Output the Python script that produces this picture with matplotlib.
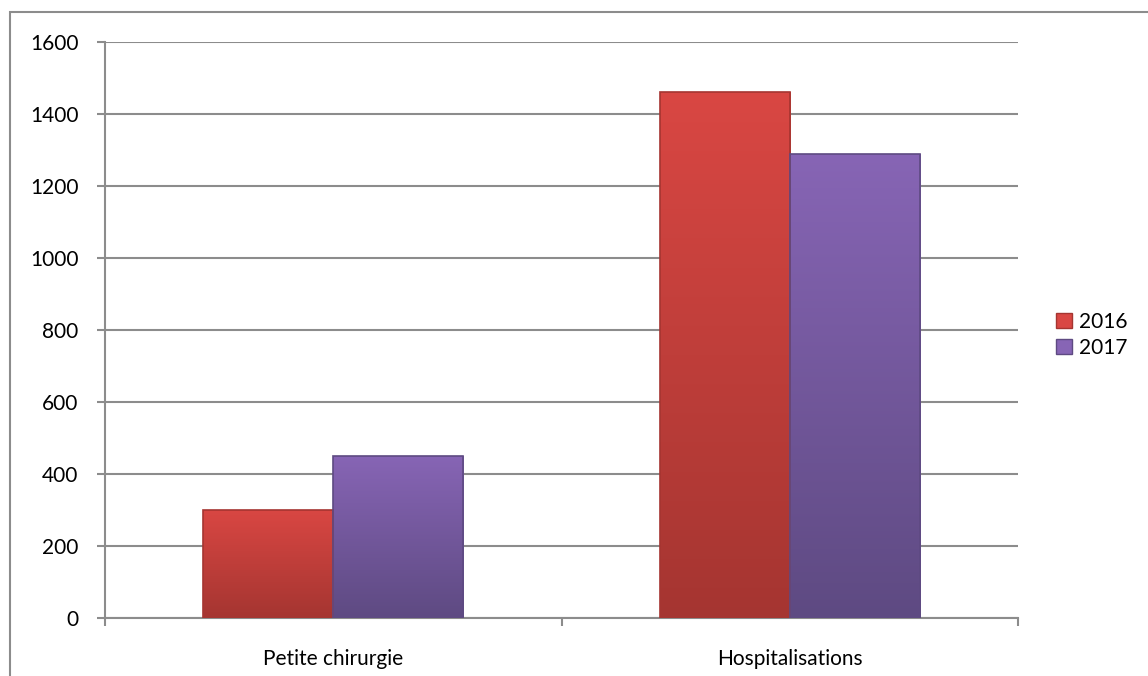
import matplotlib.pyplot as plt
import matplotlib.patches as mpatches
import numpy as np
from matplotlib.colors import LinearSegmentedColormap

categories = ["Petite chirurgie", "Hospitalisations"]
years = ["2016", "2017"]
values_2016 = [300, 1460]
values_2017 = [450, 1290]
yticks = [0, 200, 400, 600, 800, 1000, 1200, 1400, 1600]

plt.rcParams['font.family'] = ['Lato', 'DejaVu Sans']

fig = plt.figure(figsize=(11.48, 6.76), dpi=100)
ax = fig.add_axes([0.0915, 0.0858, 0.7953, 0.8521])

# outer chart border (only left/top visible)
fig.patches.append(mpatches.Rectangle((10 / 1148, -0.1), 1.2, 1 - 12 / 676 + 0.1,
                                      transform=fig.transFigure, fill=False,
                                      edgecolor="#8c8c8c", linewidth=1.5,
                                      clip_on=False))

x = np.arange(len(categories))
w = 0.285
series = [
    (values_2016, -w / 2, "#d94743", "#a53531", years[0]),
    (values_2017, w / 2, "#8765b5", "#5e4a82", years[1]),
]

for vals, off, top_c, bot_c, lab in series:
    cmap = LinearSegmentedColormap.from_list(lab, [bot_c, top_c])
    bars = ax.bar(x + off, vals, width=w, color=top_c, edgecolor="none",
                  label=lab, zorder=3)
    for b in bars:
        bx, by = b.get_x(), b.get_y()
        bw, bh = b.get_width(), b.get_height()
        grad = np.linspace(0, 1, 256).reshape(-1, 1)
        im = ax.imshow(grad, extent=[bx, bx + bw, by, by + bh], origin="lower",
                       cmap=cmap, aspect="auto", zorder=3.5)
        im.set_clip_path(b)
        ax.add_patch(mpatches.Rectangle((bx, by), bw, bh, fill=False,
                                        edgecolor=bot_c, linewidth=1.2, zorder=4))

ax.set_xlim(-0.5, 1.5)
ax.set_ylim(0, 1600)
ax.set_yticks(yticks)
ax.set_xticks(x)
ax.set_xticklabels(categories)
ax.set_xticks([-0.5, 0.5, 1.5], minor=True)
ax.tick_params(axis="x", which="major", length=0, pad=22, labelsize=15)
ax.tick_params(axis="x", which="minor", length=6, width=1.5, color="#8c8c8c")
ax.tick_params(axis="y", length=6, width=1.5, color="#8c8c8c", pad=13, labelsize=15)

ax.yaxis.grid(True, color="#8c8c8c", linewidth=1.5, zorder=0)
ax.set_axisbelow(True)
for s in ["top", "right"]:
    ax.spines[s].set_visible(False)
for s in ["left", "bottom"]:
    ax.spines[s].set_color("#8c8c8c")
    ax.spines[s].set_linewidth(1.5)

handles = [mpatches.Patch(facecolor=s[2], edgecolor=s[3], label=s[4]) for s in series]
ax.legend(handles=handles, loc="center left", bbox_to_anchor=(1056 / 1148, 1 - 335 / 676),
          bbox_transform=fig.transFigure, frameon=False, fontsize=15,
          handlelength=0.75, handleheight=0.75, handletextpad=0.35, labelspacing=0.3,
          borderaxespad=0, borderpad=0)

ax.set_facecolor("white")
fig.savefig("out.png", dpi=100)
